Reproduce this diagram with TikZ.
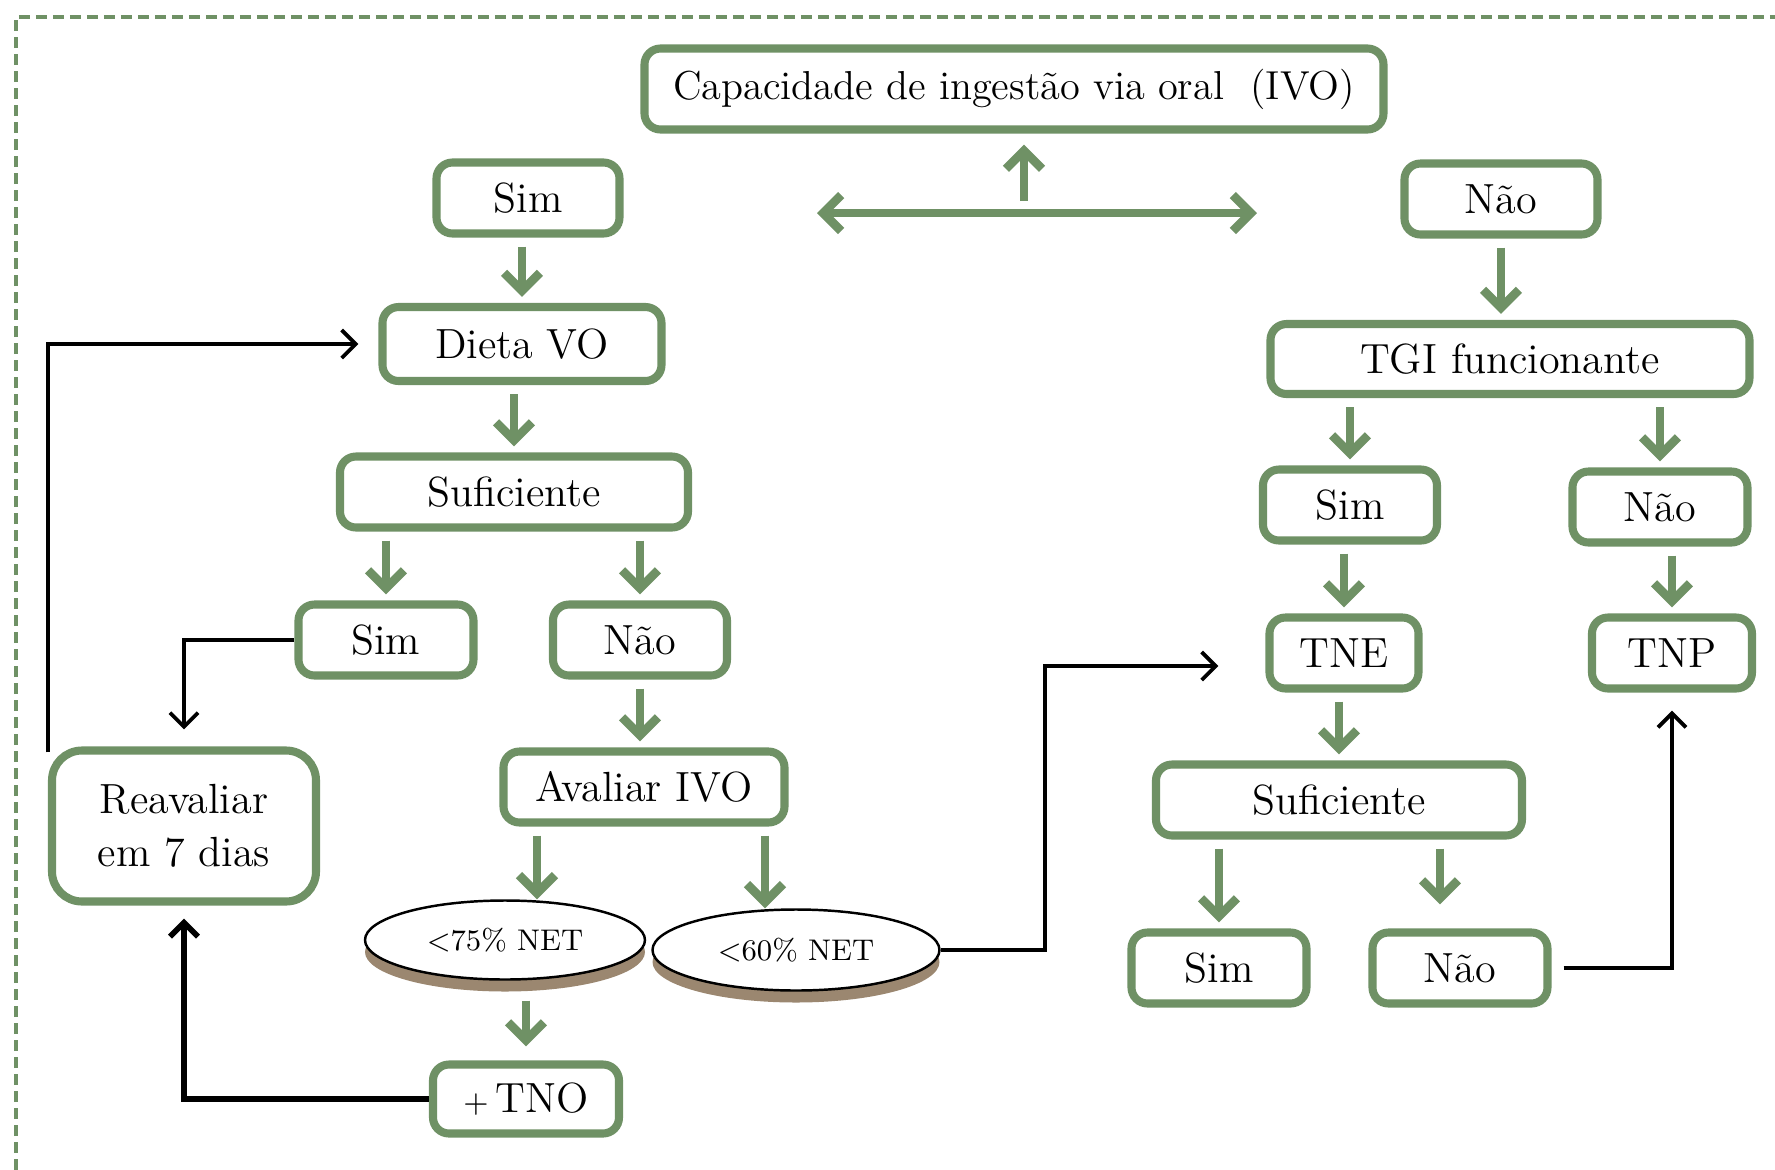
\documentclass[tikz,border=0pt]{standalone}
\usetikzlibrary{arrows.meta, shapes.geometric, shadows, calc, positioning}
\definecolor{vgreen}{RGB}{111,145,101}
\definecolor{shbrown}{RGB}{155,135,112}
\tikzset{
  box/.style={draw=vgreen, line width=2.3pt, rounded corners=1.6mm, fill=white, align=center,
    inner sep=1mm, minimum height=7.1mm, font=\fontsize{12}{15}\selectfont},
  net/.style={ellipse, draw=black, line width=0.7pt, fill=white, inner sep=0pt,
    font=\fontsize{8.5}{10}\selectfont, general shadow={fill=shbrown, shadow yshift=-1.2mm}},
  garrow/.style={draw=vgreen, line width=2.5pt, -{Straight Barb[length=1.8mm, width=3.6mm]},
    shorten <=0.9mm, shorten >=0.6mm},
  bline/.style={draw=black, line width=1.1pt, -{Straight Barb[length=1.4mm, width=2.8mm]}}
}

\begin{document}
\begin{tikzpicture}[x=0.1mm, y=-0.1mm]
  \useasboundingbox (0,0) rectangle (1775,1170);
  \draw[vgreen, line width=0.9pt, dash pattern=on 1.1mm off 0.6mm] (16,1170) |- (1775,17);

  % top question
  \node[box, minimum width=73.9mm, minimum height=8.1mm, font=\fontsize{11.5}{14}\selectfont] (cap) at (1014,89)
    {Capacidade de ingestão via oral~~(IVO)};
  \coordinate (fork) at (1024,213);
  \coordinate (forkL) at (817,213);
  \coordinate (forkR) at (1257,213);

  % left branch
  \node[box, minimum width=18.3mm] (simA) at (528,198) {Sim};
  \node[box, minimum width=27.9mm, minimum height=7.4mm] (dieta) at (522,344) {Dieta VO};
  \node[box, minimum width=34.8mm] (sufA) at (514,492) {Suficiente};
  \node[box, minimum width=17.5mm] (simB) at (386,640) {Sim};
  \node[box, minimum width=17.4mm] (naoB) at (640,640) {Não};
  \node[box, minimum width=26.4mm, minimum height=15.1mm, rounded corners=3mm] (reav) at (184,826)
    {Reavaliar\\em 7 dias};
  \node[box, minimum width=28.1mm] (aval) at (644,787) {Avaliar IVO};
  \node[net, minimum width=28mm, minimum height=7.9mm] (e75) at (505,940) {<75\% NET};
  \node[net, minimum width=28.7mm, minimum height=8.1mm] (e60) at (796,950) {<60\% NET};
  \node[box, minimum width=18.6mm, minimum height=6.9mm] (tno) at (526,1099) {{\small +}\,TNO};

  % right branch
  \node[box, minimum width=19.3mm] (naoA) at (1501,199) {Não};
  \node[box, minimum width=47.9mm, minimum height=7mm] (tgi) at (1510,359) {TGI funcionante};
  \node[box, minimum width=17.4mm] (simC) at (1350,505) {Sim};
  \node[box, minimum width=17.5mm] (naoC) at (1660,507) {Não};
  \node[box, minimum width=14.9mm] (tne) at (1344,653) {TNE};
  \node[box, minimum width=16mm] (tnp) at (1672,653) {TNP};
  \node[box, minimum width=36.6mm] (sufB) at (1339,800) {Suficiente};
  \node[box, minimum width=17.5mm] (simD) at (1219,968) {Sim};
  \node[box, minimum width=17.5mm] (naoD) at (1460,968) {Não};

  % green arrows
  \draw[garrow, {Straight Barb[length=1.8mm, width=3.6mm]}-{Straight Barb[length=1.8mm, width=3.6mm]},
    shorten <=0pt, shorten >=0pt] (forkL) -- (forkR);
  \draw[garrow, shorten <=1.2mm, shorten >=1.1mm] (fork) -- (cap.south -| fork);
  \draw[garrow] (dieta.north |- simA.south) -- (dieta.north);
  \draw[garrow] (sufA.north |- dieta.south) -- (sufA.north);
  \draw[garrow] (simB.north |- sufA.south) -- (simB.north);
  \draw[garrow] (naoB.north |- sufA.south) -- (naoB.north);
  \draw[garrow] (naoB.south) -- (naoB.south |- aval.north);
  \draw[garrow, shorten >=0pt] ([xshift=3.2mm]e75.north |- aval.south) -- ([xshift=3.2mm]e75.north);
  \draw[garrow, shorten >=0pt] ([xshift=-3.1mm]e60.north |- aval.south) -- ([xshift=-3.1mm]e60.north);
  \draw[garrow, shorten <=2mm, shorten >=1.4mm] (tno.north |- e75.south) -- (tno.north);
  \draw[garrow] (naoA.south) -- (naoA.south |- tgi.north);
  \draw[garrow] (simC.north |- tgi.south) -- (simC.north);
  \draw[garrow] (naoC.north |- tgi.south) -- (naoC.north);
  \draw[garrow] (tne.north |- simC.south) -- (tne.north);
  \draw[garrow] (tnp.north |- naoC.south) -- (tnp.north);
  \draw[garrow] (sufB.north |- tne.south) -- (sufB.north);
  \draw[garrow] (simD.north |- sufB.south) -- (simD.north);
  \draw[garrow, shorten >=2.4mm] ([xshift=-2mm]naoD.north |- sufB.south) -- ([xshift=-2mm]naoD.north);

  % black loops
  \draw[bline, shorten >=2mm] ([yshift=-0.6mm]reav.north west) |- (dieta.west);
  \draw[bline, shorten >=1.7mm] (simB.west) -| (reav.north);
  \draw[bline, line width=1.6pt, shorten >=1.3mm] (tno.west) -| (reav.south);
  \draw[bline, shorten >=4.7mm] (e60.east) -- ++(104,0) |- ([yshift=-1.3mm]tne.west);
  \draw[bline, shorten <=1.2mm, shorten >=1.8mm] (naoD.east) -| (tnp.south);
\end{tikzpicture}
\end{document}
